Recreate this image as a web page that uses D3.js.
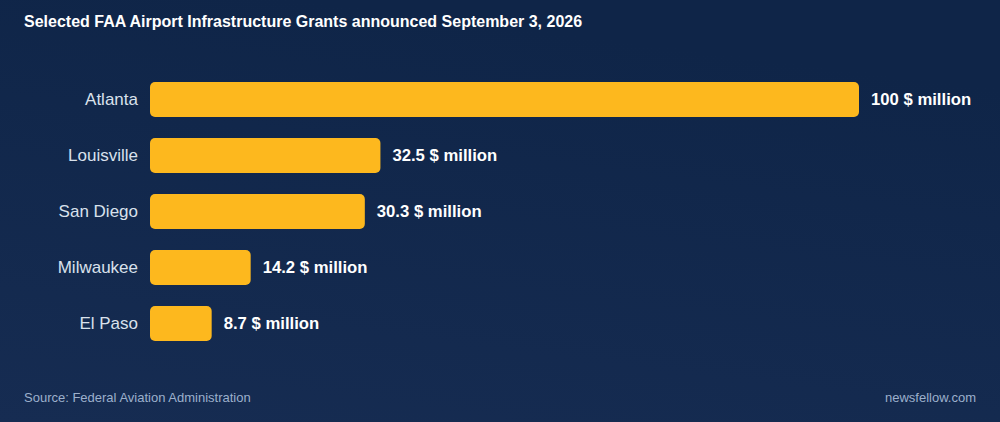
<!DOCTYPE html>
<html><head><meta charset="utf-8">
<script src="https://cdn.jsdelivr.net/npm/d3@7"></script>
<style>html,body{margin:0;padding:0;background:#10264a;}svg{display:block;}</style>
</head><body>
<svg id="c" width="1000" height="422"></svg>
<script>
const categories = ["Atlanta","Louisville","San Diego","Milwaukee","El Paso"];
const values = [100, 32.5, 30.3, 14.2, 8.7];
const unit = "$ million";
const title = "Selected FAA Airport Infrastructure Grants announced September 3, 2026";
const source = "Source: Federal Aviation Administration";
const brand = "newsfellow.com";

const svg = d3.select("#c");
const font = "'Liberation Sans', Arial, Helvetica, sans-serif";
const defs = svg.append("defs");
const g = defs.append("linearGradient").attr("id","bg").attr("x1","0.3").attr("y1","0").attr("x2","0").attr("y2","1");
g.append("stop").attr("offset","0").attr("stop-color","#0f2548");
g.append("stop").attr("offset","1").attr("stop-color","#162c52");
svg.append("rect").attr("width",1000).attr("height",422).attr("fill","url(#bg)");

const x = d3.scaleLinear().domain([0,100]).range([150,859]);
const y = d3.scaleBand().domain(categories).range([71.5,351.5]).paddingInner(0.375).paddingOuter(0.1875);

svg.append("text").attr("x",24).attr("y",27).attr("fill","#ffffff")
  .attr("font-family",font).attr("font-weight","bold").attr("font-size",16).text(title);

const rows = svg.append("g").selectAll("g").data(categories).join("g");
rows.append("rect")
  .attr("x",x(0)).attr("y",d=>y(d))
  .attr("width",(d,i)=>x(values[i])-x(0)).attr("height",y.bandwidth())
  .attr("rx",5).attr("fill","#fdb81e");
rows.append("text").attr("x",x(0)-12).attr("y",d=>y(d)+y.bandwidth()/2).attr("dy","0.35em")
  .attr("text-anchor","end").attr("fill","#d9e1ec").attr("font-family",font).attr("font-size",17).text(d=>d);
rows.append("text").attr("x",(d,i)=>x(values[i])+12).attr("y",d=>y(d)+y.bandwidth()/2).attr("dy","0.35em")
  .attr("fill","#ffffff").attr("font-family",font).attr("font-weight","bold").attr("font-size",16.7)
  .text((d,i)=>values[i]+" "+unit);

svg.append("text").attr("x",24).attr("y",402).attr("fill","#9cb0cc").attr("font-family",font).attr("font-size",13).text(source);
svg.append("text").attr("x",976).attr("y",402).attr("text-anchor","end").attr("fill","#9cb0cc").attr("font-family",font).attr("font-size",13).text(brand);
</script>
</body></html>
